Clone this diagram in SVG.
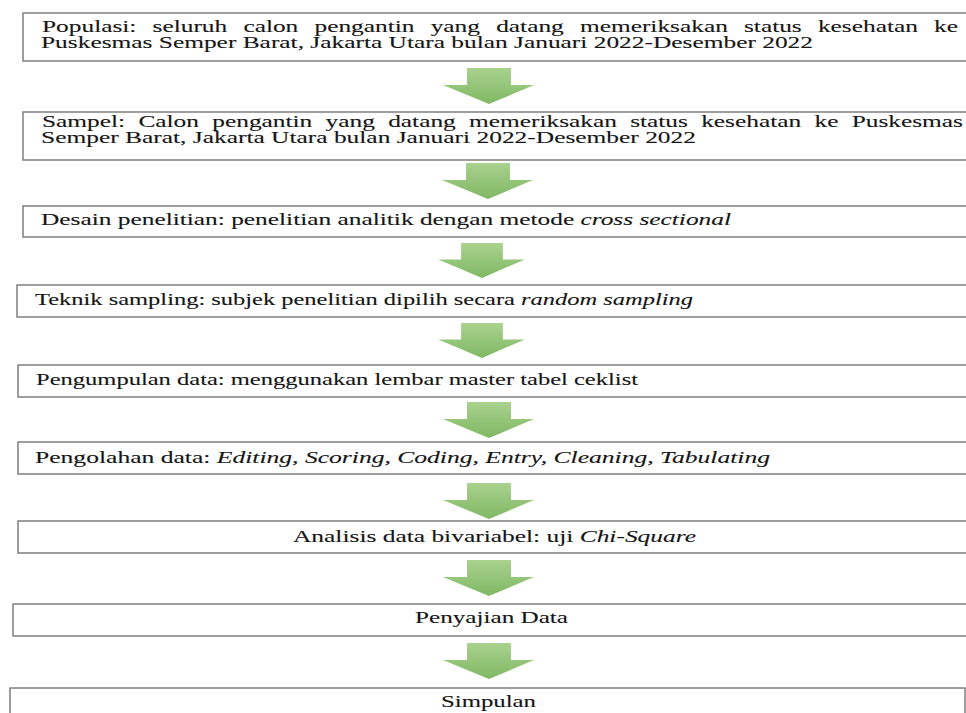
<svg xmlns="http://www.w3.org/2000/svg" width="966" height="713" viewBox="0 0 966 713">
<style>
.box{fill:#ffffff;stroke:#767676;stroke-width:1.4}
.t{font-family:"Liberation Serif","Times New Roman",serif;font-size:16px;fill:#151515;stroke:#151515;stroke-width:0.1}
.i{font-style:italic}
.arr{fill:url(#g)}
</style>
<defs>
<linearGradient id="g" x1="0" y1="0" x2="0" y2="1">
<stop offset="0" stop-color="#a9d28e"/>
<stop offset="1" stop-color="#80b864"/>
</linearGradient>
<path id="arrow" d="M-22,0 H22 V17 H45 L0,36 L-46,17 H-22 Z"/>
</defs>
<rect width="966" height="713" fill="#ffffff"/>

<g id="connectors">
<use href="#arrow" class="arr" transform="translate(489,68)"/>
<use href="#arrow" class="arr" transform="translate(488,163)"/>
<use href="#arrow" class="arr" transform="translate(482,243) scale(0.95,0.97)"/>
<use href="#arrow" class="arr" transform="translate(482,323) scale(0.95,0.97)"/>
<use href="#arrow" class="arr" transform="translate(489,402)"/>
<use href="#arrow" class="arr" transform="translate(489,483)"/>
<use href="#arrow" class="arr" transform="translate(489,560)"/>
<use href="#arrow" class="arr" transform="translate(489,643)"/>
</g>

<g id="n1">
<rect class="box" x="23" y="13" width="960" height="48"/>
<g class="t">
<text x="42" y="32" textLength="94.4" lengthAdjust="spacingAndGlyphs">Populasi:</text>
<text x="152.6" y="32" textLength="74.6" lengthAdjust="spacingAndGlyphs">seluruh</text>
<text x="243.4" y="32" textLength="54.9" lengthAdjust="spacingAndGlyphs">calon</text>
<text x="314.5" y="32" textLength="100" lengthAdjust="spacingAndGlyphs">pengantin</text>
<text x="430.7" y="32" textLength="49.3" lengthAdjust="spacingAndGlyphs">yang</text>
<text x="496.2" y="32" textLength="67.6" lengthAdjust="spacingAndGlyphs">datang</text>
<text x="580" y="32" textLength="147.8" lengthAdjust="spacingAndGlyphs">memeriksakan</text>
<text x="744" y="32" textLength="57.7" lengthAdjust="spacingAndGlyphs">status</text>
<text x="817.9" y="32" textLength="100" lengthAdjust="spacingAndGlyphs">kesehatan</text>
<text x="934.1" y="32" textLength="23.9" lengthAdjust="spacingAndGlyphs">ke</text>
<text x="41" y="48" textLength="772" lengthAdjust="spacingAndGlyphs">Puskesmas Semper Barat, Jakarta Utara bulan Januari 2022-Desember 2022</text>
</g>
</g>

<g id="n2">
<rect class="box" x="23" y="112" width="960" height="48"/>
<g class="t">
<text x="42" y="127" textLength="83.1" lengthAdjust="spacingAndGlyphs">Sampel:</text>
<text x="138.4" y="127" textLength="60.6" lengthAdjust="spacingAndGlyphs">Calon</text>
<text x="212.3" y="127" textLength="100" lengthAdjust="spacingAndGlyphs">pengantin</text>
<text x="325.6" y="127" textLength="49.3" lengthAdjust="spacingAndGlyphs">yang</text>
<text x="388.2" y="127" textLength="67.6" lengthAdjust="spacingAndGlyphs">datang</text>
<text x="469.1" y="127" textLength="147.8" lengthAdjust="spacingAndGlyphs">memeriksakan</text>
<text x="630.2" y="127" textLength="57.7" lengthAdjust="spacingAndGlyphs">status</text>
<text x="701.2" y="127" textLength="100" lengthAdjust="spacingAndGlyphs">kesehatan</text>
<text x="814.5" y="127" textLength="23.9" lengthAdjust="spacingAndGlyphs">ke</text>
<text x="851.7" y="127" textLength="111.3" lengthAdjust="spacingAndGlyphs">Puskesmas</text>
<text x="41" y="143" textLength="655" lengthAdjust="spacingAndGlyphs">Semper Barat, Jakarta Utara bulan Januari 2022-Desember 2022</text>
</g>
</g>

<g id="n3">
<rect class="box" x="23" y="206" width="960" height="31"/>
<text class="t" x="41" y="225" textLength="690" lengthAdjust="spacingAndGlyphs">Desain penelitian: penelitian analitik dengan metode <tspan class="i">cross sectional</tspan></text>
</g>

<g id="n4">
<rect class="box" x="17" y="285" width="966" height="32"/>
<text class="t" x="35" y="305" textLength="658" lengthAdjust="spacingAndGlyphs">Teknik sampling: subjek penelitian dipilih secara <tspan class="i">random sampling</tspan></text>
</g>

<g id="n5">
<rect class="box" x="18" y="365" width="966" height="32"/>
<text class="t" x="36" y="385" textLength="602" lengthAdjust="spacingAndGlyphs">Pengumpulan data: menggunakan lembar master tabel ceklist</text>
</g>

<g id="n6">
<rect class="box" x="18" y="442" width="966" height="32"/>
<text class="t" x="35" y="463" textLength="735" lengthAdjust="spacingAndGlyphs">Pengolahan data: <tspan class="i">Editing, Scoring, Coding, Entry, Cleaning, Tabulating</tspan></text>
</g>

<g id="n7">
<rect class="box" x="18" y="521" width="966" height="32"/>
<text class="t" x="293" y="542" textLength="403" lengthAdjust="spacingAndGlyphs">Analisis data bivariabel: uji <tspan class="i">Chi-Square</tspan></text>
</g>

<g id="n8">
<rect class="box" x="13" y="604" width="966" height="32"/>
<text class="t" x="415" y="623" textLength="153" lengthAdjust="spacingAndGlyphs">Penyajian Data</text>
</g>

<g id="n9">
<rect class="box" x="10" y="688" width="955" height="40"/>
<text class="t" x="441" y="707" textLength="95" lengthAdjust="spacingAndGlyphs">Simpulan</text>
</g>
</svg>
